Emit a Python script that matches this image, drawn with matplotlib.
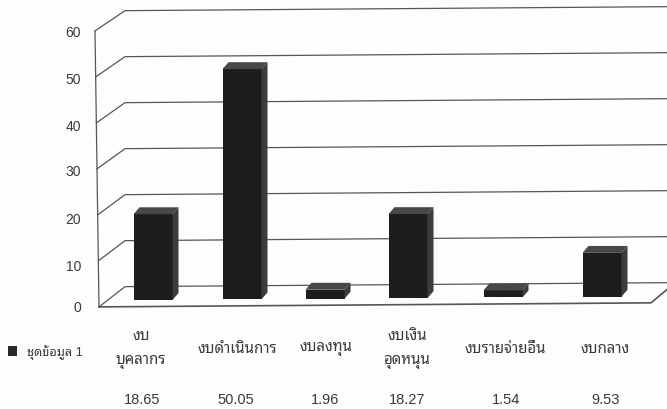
# Budget bar chart with a fake 3D look, scanned from a Thai report

import matplotlib
matplotlib.use("Agg")
import matplotlib.pyplot as plt
from matplotlib.patches import Polygon, Rectangle

plt.rcParams['font.family'] = ['Liberation Sans', 'Noto Sans Thai Looped', 'Noto Sans Thai', 'Sarabun', 'DejaVu Sans']

# Data
categories = ["งบ\nบุคลากร", "งบดำเนินการ", "งบลงทุน", "งบเงิน\nอุดหนุน", "งบรายจ่ายอื่น", "งบกลาง"]
values = [18.65, 50.05, 1.96, 18.27, 1.54, 9.53]
value_labels = ["18.65", "50.05", "1.96", "18.27", "1.54", "9.53"]
y_ticks = [0, 10, 20, 30, 40, 50, 60]
series_name = "ชุดข้อมูล 1"

# Layout, x in pixels of the picture, y in chart units
bar_x = [153, 242, 325, 408, 503, 602]
label_x = [141, 237, 326, 407, 505, 605]
number_x = [142, 236, 325, 407, 506, 606]
bar_w = 39
dx, dy = 6, 1.5          # depth of a bar
tilt = 0.0016            # the scan is slightly rotated
scale = 4.6              # pixels per unit
back = 2.9               # back wall is raised by this much
front = -1.5

GRID = "#565656"
TEXT = "#3a3a3a"

fig = plt.figure(figsize=(6.67, 4.10), dpi=100, facecolor="#fdfdfd")
ax = fig.add_axes([0, 0, 1, 1])
ax.set_xlim(0, 667)
ax.set_ylim(-109 / scale, 301 / scale)
ax.axis("off")


def tilted(x):
    return tilt * (x - 153)


# Walls and gridlines
for v in y_ticks:
    fx = 99 - v * 4 / 60
    fy = v + front
    ax.plot([fx, 125, 667], [fy, v + back, v + back + tilt * (667 - 125)],
            color=GRID, lw=0.9, zorder=1, solid_joinstyle="miter")
ax.plot([99, 95], [front, 60 + front], color=GRID, lw=0.9, zorder=1)
ax.plot([99, 651, 667], [front, front + tilt * (651 - 99), front + tilt * (651 - 99) + 2.9],
        color=GRID, lw=1.2, zorder=1)

# Bars
bottoms = [tilted(x) for x in bar_x]
ax.bar(bar_x, values, width=bar_w, bottom=bottoms, color="#1d1d1d", zorder=3)
for x, v, b in zip(bar_x, values, bottoms):
    l, r = x - bar_w / 2, x + bar_w / 2
    t = b + v
    ax.add_patch(Polygon([(l, t), (r, t), (r + dx, t + dy), (l + dx, t + dy)],
                         color="#484848", lw=0, zorder=3))
    ax.add_patch(Polygon([(r, b), (r + dx, b + dy), (r + dx, t + dy), (r, t)],
                         color="#3c3c3c", lw=0, zorder=3))

# Axis numbers
tick_y = [308, 267, 220, 172, 127, 80, 33]
for v, py in zip(y_ticks, tick_y):
    fig.text(81 / 667, 1 - py / 410, str(v), ha="right", va="center", fontsize=10, color=TEXT)

# Category names and values under the chart
for x, name in zip(label_x, categories):
    fig.text(x / 667, 1 - 349 / 410, name, ha="center", va="center", fontsize=10.8,
             color=TEXT, linespacing=1.84)
for x, s in zip(number_x, value_labels):
    fig.text(x / 667, 1 - 400 / 410, s, ha="center", va="center", fontsize=10.5, color=TEXT)

# Legend
ax.add_patch(Rectangle((8, -(357 - 301) / scale), 9, 10 / scale, color="#2a2a2a", lw=0, zorder=3))
fig.text(27 / 667, 1 - 353 / 410, series_name, ha="left", va="center", fontsize=9.2, color=TEXT)

fig.savefig("out.png", dpi=100, facecolor=fig.get_facecolor())
